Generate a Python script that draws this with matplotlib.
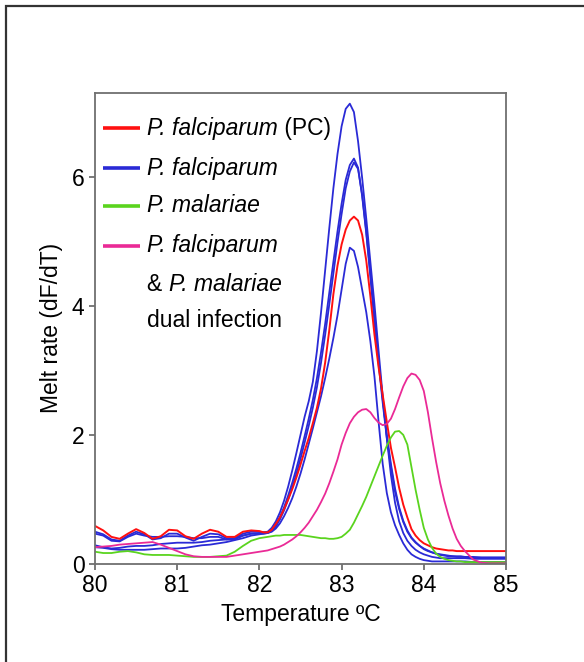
import numpy as np
import matplotlib
matplotlib.use('Agg')
import matplotlib.pyplot as plt
from matplotlib.patches import Rectangle

plt.rcParams['font.family'] = ['Liberation Sans', 'DejaVu Sans']

# temperature grid: 0.1 steps on the baseline, 0.05 steps through the peaks
temps = np.concatenate([np.round(np.arange(80.0, 81.95, 0.1), 2),
                        np.round(np.arange(82.0, 84.501, 0.05), 2),
                        np.round(np.arange(84.6, 85.001, 0.1), 2)])

# melt curves (dF/dT)
pc_red = [0.59, 0.52, 0.42, 0.39, 0.47, 0.54, 0.48, 0.39, 0.43, 0.53,
          0.52, 0.43, 0.39, 0.47, 0.53, 0.50, 0.42, 0.42, 0.50, 0.52,
          0.51, 0.49, 0.49, 0.53, 0.62, 0.72, 0.85, 1.00, 1.16, 1.34,
          1.54, 1.75, 1.95, 2.18, 2.42, 2.72, 3.12, 3.62, 4.18, 4.62,
          4.95, 5.18, 5.32, 5.38, 5.32, 5.10, 4.70, 4.15, 3.55, 3.05,
          2.62, 2.20, 1.80, 1.50, 1.18, 0.92, 0.72, 0.54, 0.44, 0.37,
          0.32, 0.29, 0.26, 0.24, 0.23, 0.22, 0.21, 0.21, 0.20, 0.20,
          0.20,
          0.20, 0.20, 0.20, 0.20, 0.20]

pf_blue_1 = [0.29, 0.26, 0.24, 0.25, 0.27, 0.28, 0.28, 0.29, 0.31, 0.32,
             0.33, 0.33, 0.33, 0.34, 0.36, 0.37, 0.38, 0.40, 0.44, 0.47,
             0.48, 0.49, 0.50, 0.56, 0.66, 0.80, 0.98, 1.20, 1.45, 1.72,
             2.00, 2.28, 2.52, 2.82, 3.30, 3.90, 4.55, 5.20, 5.82, 6.35,
             6.78, 7.05, 7.13, 7.00, 6.55, 5.98, 5.35, 4.68, 4.02, 3.30,
             2.60, 1.95, 1.38, 0.95, 0.66, 0.48, 0.36, 0.28, 0.22, 0.18,
             0.15, 0.13, 0.11, 0.10, 0.09, 0.09, 0.09, 0.09, 0.09, 0.09,
             0.09,
             0.08, 0.08, 0.08, 0.08, 0.08]

pf_blue_2 = [0.50, 0.46, 0.38, 0.36, 0.44, 0.50, 0.46, 0.38, 0.40, 0.47,
             0.47, 0.41, 0.36, 0.42, 0.47, 0.46, 0.40, 0.40, 0.47, 0.50,
             0.50, 0.49, 0.49, 0.53, 0.61, 0.73, 0.88, 1.06, 1.26, 1.48,
             1.72, 1.98, 2.25, 2.54, 2.88, 3.28, 3.72, 4.20, 4.68, 5.15,
             5.58, 5.95, 6.18, 6.28, 6.14, 5.70, 5.12, 4.45, 3.75, 3.10,
             2.50, 1.95, 1.50, 1.12, 0.85, 0.65, 0.50, 0.40, 0.33, 0.28,
             0.23, 0.20, 0.18, 0.16, 0.14, 0.13, 0.12, 0.12, 0.11, 0.11,
             0.11,
             0.10, 0.10, 0.10, 0.10, 0.10]

pf_blue_3 = [0.47, 0.44, 0.36, 0.35, 0.42, 0.47, 0.44, 0.42, 0.42, 0.43,
             0.43, 0.42, 0.40, 0.40, 0.42, 0.42, 0.38, 0.38, 0.44, 0.47,
             0.47, 0.47, 0.48, 0.51, 0.58, 0.69, 0.83, 1.00, 1.19, 1.40,
             1.63, 1.88, 2.14, 2.42, 2.74, 3.12, 3.55, 4.02, 4.50, 4.98,
             5.42, 5.82, 6.08, 6.22, 6.12, 5.72, 5.15, 4.50, 3.82, 3.15,
             2.55, 2.00, 1.55, 1.17, 0.88, 0.67, 0.52, 0.41, 0.34, 0.28,
             0.24, 0.21, 0.18, 0.16, 0.15, 0.14, 0.13, 0.12, 0.12, 0.12,
             0.11,
             0.11, 0.10, 0.10, 0.10, 0.10]

pf_blue_4 = [0.26, 0.25, 0.23, 0.22, 0.22, 0.22, 0.22, 0.23, 0.24, 0.24,
             0.24, 0.25, 0.27, 0.29, 0.30, 0.32, 0.34, 0.37, 0.40, 0.44,
             0.46, 0.47, 0.48, 0.50, 0.55, 0.63, 0.74, 0.87, 1.02, 1.20,
             1.40, 1.62, 1.86, 2.10, 2.35, 2.60, 2.88, 3.18, 3.50, 3.85,
             4.25, 4.65, 4.90, 4.85, 4.60, 4.25, 3.90, 3.45, 2.90, 2.20,
             1.55, 1.10, 0.80, 0.60, 0.45, 0.32, 0.22, 0.15, 0.11, 0.08,
             0.06, 0.05, 0.04, 0.04, 0.04, 0.04, 0.04, 0.04, 0.04, 0.04,
             0.04,
             0.03, 0.03, 0.03, 0.03, 0.03]

pm_green = [0.19, 0.17, 0.17, 0.19, 0.20, 0.18, 0.15, 0.14, 0.14, 0.14,
            0.13, 0.12, 0.11, 0.11, 0.11, 0.12, 0.13, 0.19, 0.28, 0.36,
            0.40, 0.41, 0.42, 0.43, 0.44, 0.44, 0.45, 0.45, 0.45, 0.45,
            0.45, 0.44, 0.43, 0.42, 0.41, 0.40, 0.40, 0.39, 0.39, 0.40,
            0.42, 0.47, 0.53, 0.64, 0.77, 0.90, 1.04, 1.20, 1.36, 1.52,
            1.68, 1.83, 1.96, 2.05, 2.06, 2.00, 1.85, 1.50, 1.15, 0.84,
            0.56, 0.38, 0.25, 0.16, 0.11, 0.08, 0.06, 0.05, 0.04, 0.04,
            0.03,
            0.03, 0.03, 0.03, 0.03, 0.03]

dual_magenta = [0.26, 0.27, 0.28, 0.30, 0.31, 0.32, 0.33, 0.34, 0.30, 0.25,
                0.20, 0.15, 0.12, 0.11, 0.11, 0.11, 0.11, 0.13, 0.15, 0.17,
                0.19, 0.20, 0.21, 0.23, 0.25, 0.27, 0.30, 0.34, 0.38, 0.43,
                0.49, 0.56, 0.64, 0.74, 0.84, 0.96, 1.09, 1.25, 1.43, 1.62,
                1.85, 2.03, 2.18, 2.28, 2.35, 2.39, 2.40, 2.35, 2.26, 2.19,
                2.15, 2.17, 2.25, 2.40, 2.58, 2.75, 2.88, 2.95, 2.93, 2.85,
                2.68, 2.35, 1.95, 1.58, 1.25, 0.98, 0.75, 0.55, 0.39, 0.28,
                0.20,
                0.07, 0.02, 0.01, 0.01, 0.01]

c_red, c_blue, c_green, c_mag = '#ff1010', '#2a2ad6', '#5ad41e', '#ea2a96'
fs = 16.5

fig = plt.figure(figsize=(5.84, 6.62), dpi=100)
ax = fig.add_axes([95/584, 1 - 564/662, 411/584, (564 - 92.7)/662])

for ys in [pf_blue_1, pf_blue_2, pf_blue_3, pf_blue_4]:
    ax.plot(temps, ys, color=c_blue, lw=1.3)
ax.plot(temps, pc_red, color=c_red, lw=1.4)
ax.plot(temps, pm_green, color=c_green, lw=1.3)
ax.plot(temps, dual_magenta, color=c_mag, lw=1.3)

ax.set_xlim(80, 85)
ax.set_ylim(0, 7.3)
ax.set_xticks([80, 81, 82, 83, 84, 85])
ax.set_yticks([0, 2, 4, 6])

for s in ax.spines.values():
    s.set_color('#707070')
    s.set_linewidth(1.3)
ax.tick_params(direction='out', length=4, width=1.3, color='#707070',
               labelsize=fs, pad=3.5)

ax.set_xlabel('Temperature ºC', fontsize=fs, labelpad=4)
ax.set_ylabel('Melt rate (dF/dT)', fontsize=fs, labelpad=6)

# legend (italic species names mixed with upright text)
key_x0, key_x1, txt_x = 0.0195, 0.1095, 0.1265
entries = [(c_red, 0.925, 'P. falciparum', ' (PC)'),
           (c_blue, 0.840, 'P. falciparum', ''),
           (c_green, 0.760, 'P. malariae', ''),
           (c_mag, 0.675, 'P. falciparum', '')]
for col, y, ital, tail in entries:
    ax.plot([key_x0, key_x1], [y, y], color=col, lw=2.6,
            solid_capstyle='butt', transform=ax.transAxes)
    t = ax.text(txt_x, y, ital, fontsize=fs, fontstyle='italic',
                va='center', ha='left', transform=ax.transAxes)
    if tail:
        ax.annotate(tail, xy=(1, 0), xycoords=t, fontsize=fs,
                    va='bottom', ha='left')

amp = ax.text(txt_x, 0.594, '& ', fontsize=fs, va='center', ha='left',
              transform=ax.transAxes)
ax.annotate('P. malariae', xy=(1, 0), xycoords=amp, fontsize=fs,
            fontstyle='italic', va='bottom', ha='left')
ax.text(txt_x, 0.516, 'dual infection', fontsize=fs, va='center', ha='left',
        transform=ax.transAxes)

# outer frame around the panel
fig.add_artist(Rectangle((5.5/584, -0.05), 1.1, 1.05 - 5.5/662,
                         transform=fig.transFigure, fill=False,
                         edgecolor='#333333', lw=1.6, clip_on=False))

fig.savefig('out.png', dpi=100)
